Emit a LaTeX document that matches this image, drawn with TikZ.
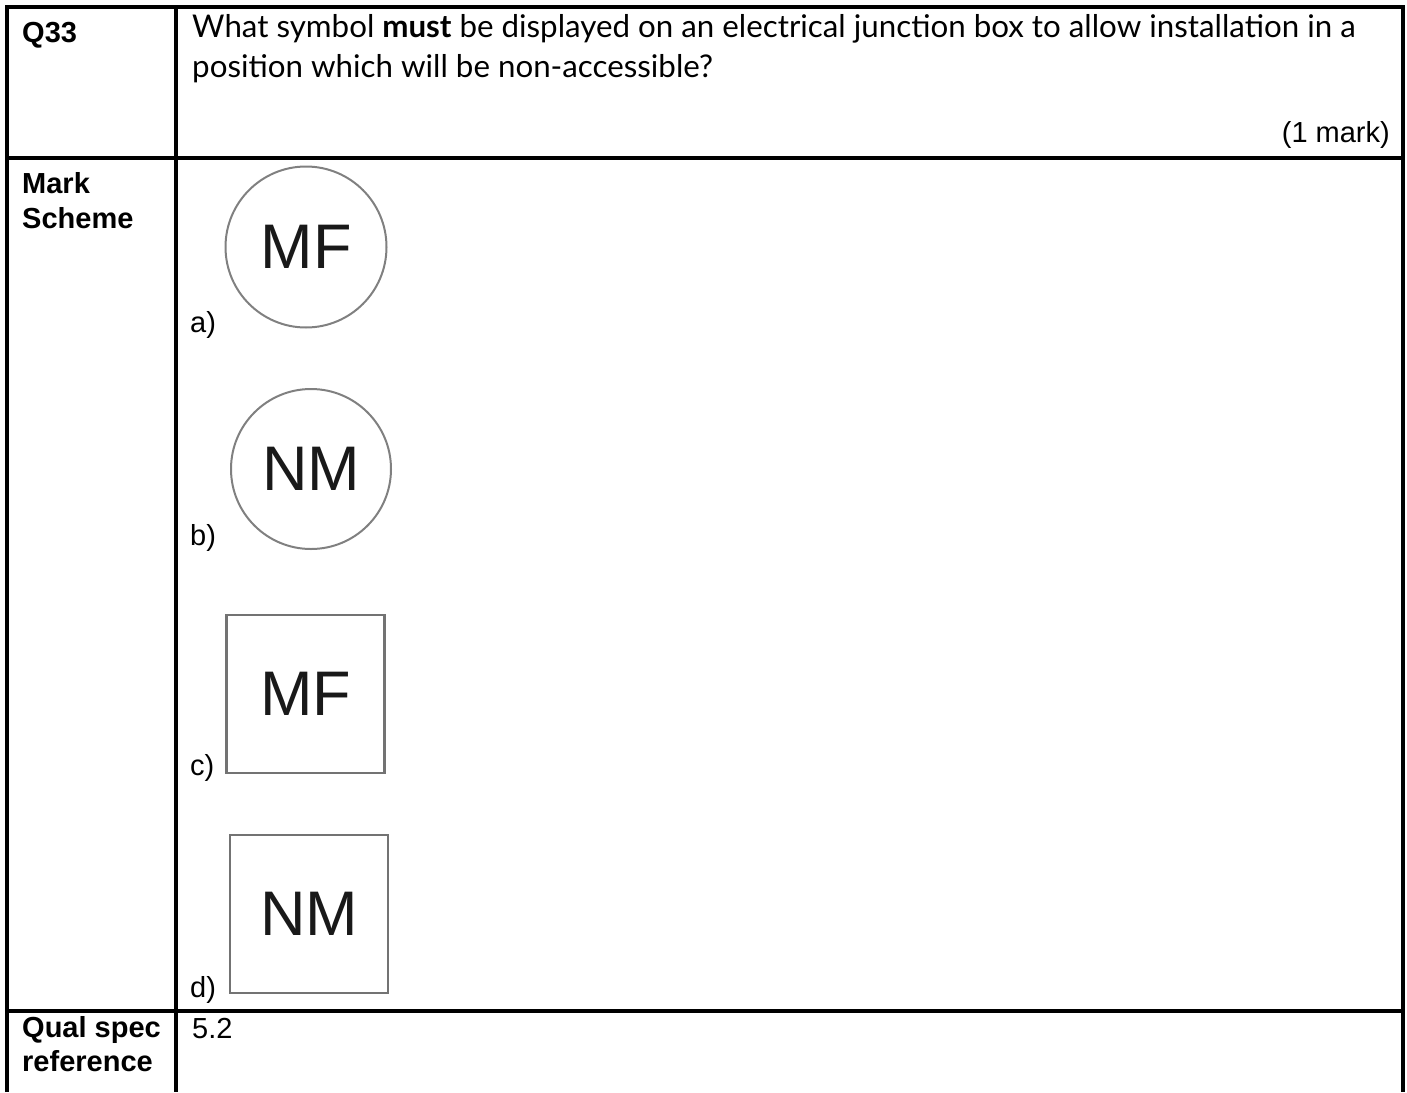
\documentclass[tikz,border=0pt]{standalone}
\usepackage{fontspec}
\setmainfont{Liberation Sans}
\newfontfamily\qfont{Lato}
\usetikzlibrary{positioning}

\begin{document}
\begin{tikzpicture}[x=1pt,y=-1pt,
    rule/.style={line width=3.2pt},
    head/.style={anchor=base west,inner sep=0pt,font=\fontsize{29}{34}\selectfont\bfseries},
    txt/.style={anchor=base west,inner sep=0pt,font=\fontsize{29}{34}\selectfont},
    qtxt/.style={anchor=base west,inner sep=0pt,font=\qfont\fontsize{31.3}{40}\selectfont},
    sym/.style={draw=black!50,line width=2pt,inner sep=0pt,font=\fontsize{63}{63}\selectfont,text=black!90},
    rsym/.style={sym,rectangle,minimum size=158pt,draw=black!55,line width=2.6pt}]
    \useasboundingbox (0,0) rectangle (1407,1092);
    % table rules
    \draw [rule] (7,1092) -- (7,7) -- (1403,7) -- (1403,1092);
    \draw [rule] (176,7) -- (176,1092);
    \draw [rule] (7,158) -- (1403,158);
    \draw [rule] (7,1011) -- (1403,1011);
    % left column
    \node [head] (q) at (22,42) {Q33};
    \node [head] (ms1) at (22,193) {Mark};
    \node [head] (ms2) at (22,228) {Scheme};
    \node [head] (qs1) at (22,1037) {Qual spec};
    \node [head] (qs2) at (22,1071) {reference};
    % question
    \node [qtxt] (q1) at (192,37) {What symbol \textbf{must} be displayed on an electrical junction box to allow installation in a};
    \node [qtxt] (q2) at (192,77) {position which will be non-accessible?};
    \node [txt,anchor=base east] (mk) at (1390,142) {(1 mark)};
    % options
    \node [sym,circle,minimum size=161pt] (a) at (306,247) {MF};
    \node [sym,circle,minimum size=160pt] (b) at (311,469) {NM};
    \node [rsym] (c) at (305.5,694) {MF};
    \node [rsym] (d) at (309,914) {NM};
    \node [txt] (la) at (190,332) {a)};
    \node [txt] (lb) at (190,545) {b)};
    \node [txt] (lc) at (190,775) {c)};
    \node [txt] (ld) at (190,997) {d)};
    \node [txt] (ref) at (192,1038) {5.2};
\end{tikzpicture}
\end{document}
